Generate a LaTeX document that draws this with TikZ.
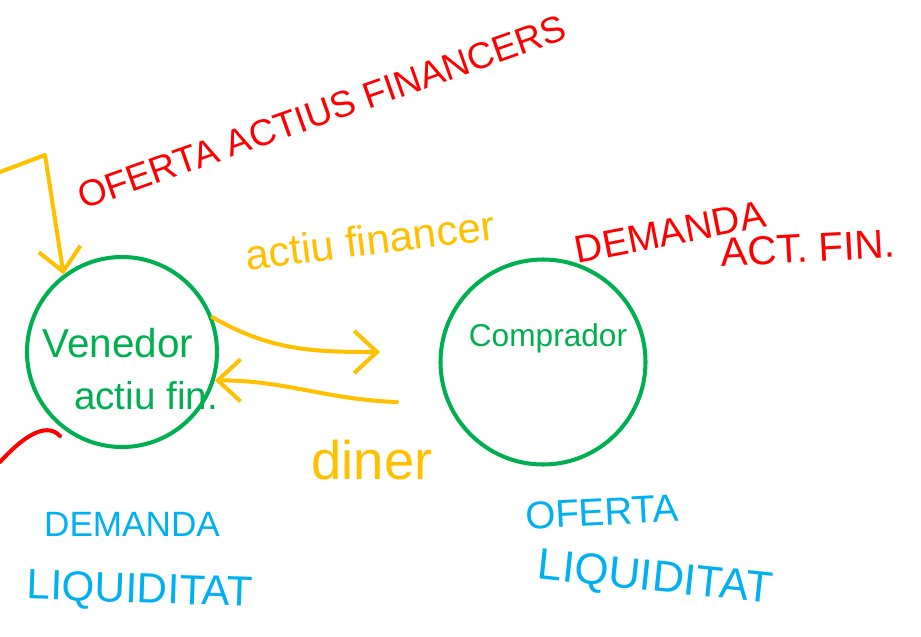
\documentclass[tikz,border=0pt]{standalone}
\usepackage{fontspec}
\setmainfont{Liberation Sans}
\usetikzlibrary{arrows.meta}
\definecolor{vermell}{RGB}{255,0,0}
\definecolor{groc}{RGB}{255,192,0}
\definecolor{verd}{RGB}{0,176,80}
\definecolor{blau}{RGB}{0,176,240}

\begin{document}
\begin{tikzpicture}[x=0.2mm,y=-0.2mm,
  trac/.style={line width=2.3pt,line cap=round,line join=round},
  fletxa/.style={trac,draw=groc,-{Straight Barb[length=13pt,width=24pt]}},
  actor/.style={trac,draw=verd,circle,inner sep=0pt},
  lletra/.style={inner sep=0pt,font=\fontsize{#1}{#1}\selectfont},
  lletra/.default=22]
\useasboundingbox (0,0) rectangle (921,636);
% els dos agents
\node[actor,minimum size=38mm] (venedor) at (122,352) {};
\node[actor,minimum size=41mm] (comprador) at (543,362) {};
\node[lletra=23,text=verd] (venedortxt) at (118,343) {Venedor};
\node[lletra=22,text=verd] (actiutxt) at (146,396) {actiu fin.};
\node[lletra=18,text=verd] (compradortxt) at (548,338) {Comprador};
% fluxos
\coordinate (entrada) at (0,172);
\coordinate (cap) at (380,352);
\coordinate (retorn) at (397,402);
\draw[fletxa] (entrada) -- (45,155) -- (venedor.127);
\draw[fletxa] (venedor.21) to[out=-30,in=180] (cap);
\draw[fletxa] (retorn) to[out=178,in=0] (venedor.-17);
\node[lletra=24,text=groc,rotate=7] (actiufin) at (370,240) {actiu financer};
\node[lletra=31,text=groc] (diner) at (372,460) {diner};
% mercats
\node[lletra=21,text=vermell,rotate=19.5] (oferta) at (322,112) {OFERTA ACTIUS FINANCERS};
\node[lletra=22,text=vermell,rotate=11] (demanda) at (670,232) {DEMANDA};
\node[lletra=23,text=vermell,rotate=3] (actfin) at (808,248) {ACT. FIN.};
\draw[trac,vermell] (0,462) .. controls (20,440) and (45,420) .. (60,436);
\node[lletra=20,text=blau] (demliq) at (132,524) {DEMANDA};
\node[lletra=24,text=blau,rotate=-2] (liq1) at (140,592) {LIQUIDITAT};
\node[lletra=22,text=blau,rotate=3] (oferliq) at (602,512) {OFERTA};
\node[lletra=25,text=blau,rotate=-6] (liq2) at (655,580) {LIQUIDITAT};
\end{tikzpicture}
\end{document}
